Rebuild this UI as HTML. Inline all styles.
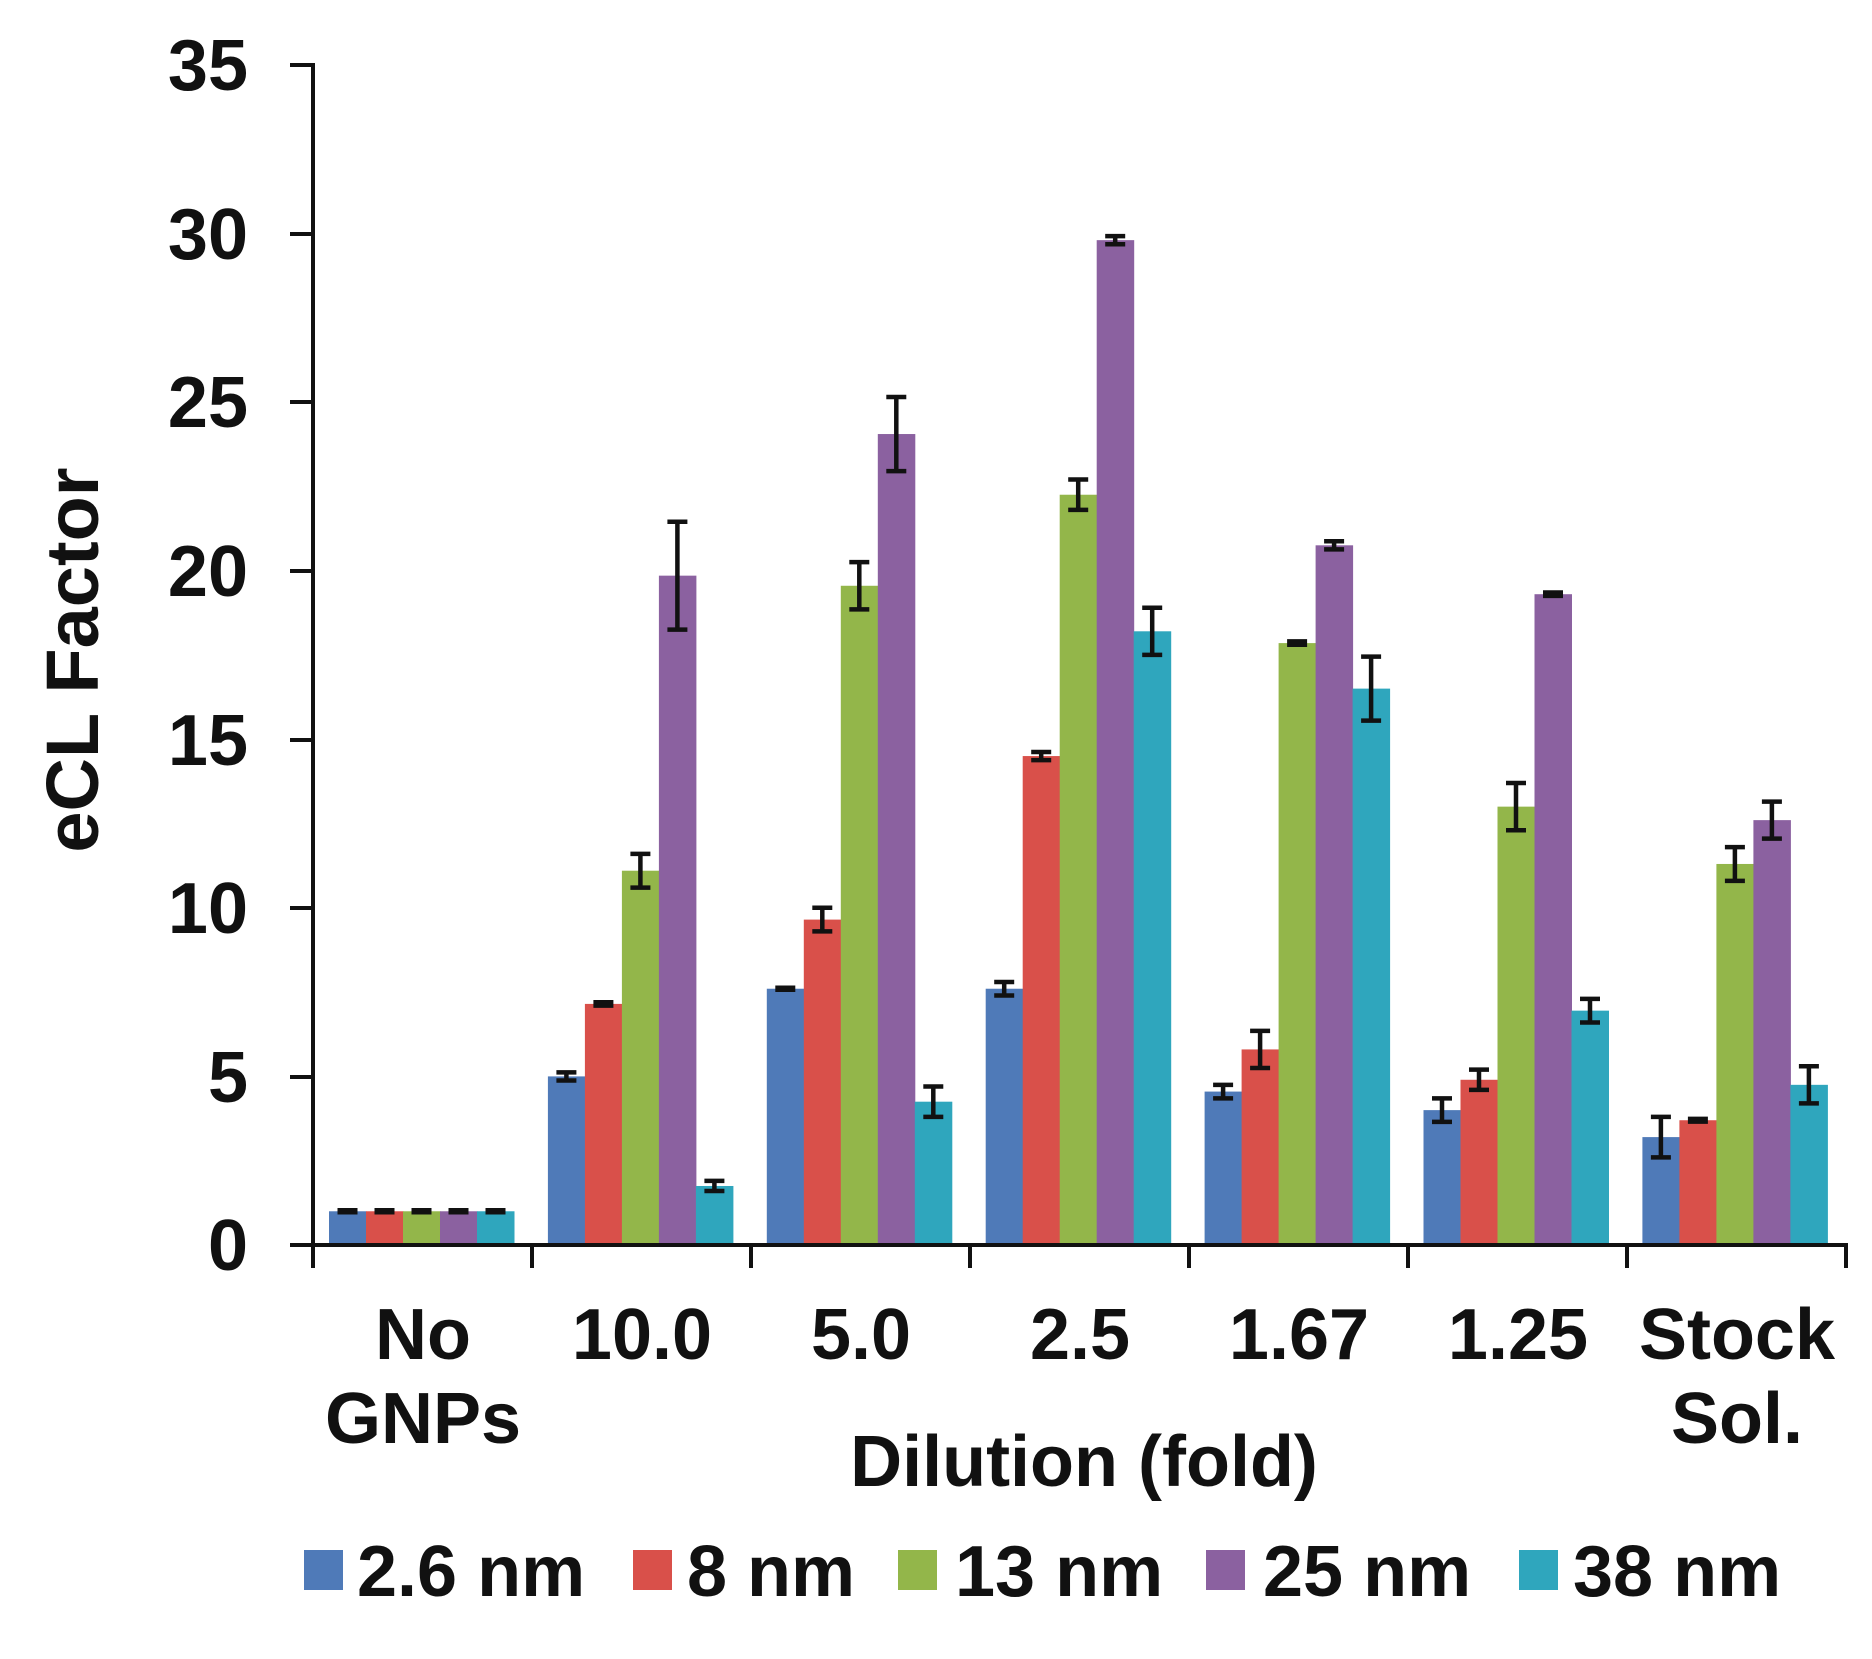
<!DOCTYPE html>
<html><head><meta charset="utf-8"><style>
body{margin:0;background:#fff}
svg{display:block}
text{font-family:"Liberation Sans",Arial,sans-serif;font-weight:bold;fill:#111}
</style></head><body>
<svg width="1872" height="1659" viewBox="0 0 1872 1659" xmlns="http://www.w3.org/2000/svg">
<g id="bars"></g>
<g stroke="#111" stroke-width="4" fill="none">
<line x1="313" y1="63" x2="313" y2="1268"/>
<line x1="290" y1="1245" x2="1848" y2="1245"/>
<line x1="1846" y1="1245" x2="1846" y2="1268"/>
<line x1="290" y1="65" x2="313" y2="65"/>
<line x1="290" y1="234" x2="313" y2="234"/>
<line x1="290" y1="402" x2="313" y2="402"/>
<line x1="290" y1="571" x2="313" y2="571"/>
<line x1="290" y1="740" x2="313" y2="740"/>
<line x1="290" y1="908" x2="313" y2="908"/>
<line x1="290" y1="1077" x2="313" y2="1077"/>
<line x1="532" y1="1245" x2="532" y2="1268"/>
<line x1="751" y1="1245" x2="751" y2="1268"/>
<line x1="970" y1="1245" x2="970" y2="1268"/>
<line x1="1189" y1="1245" x2="1189" y2="1268"/>
<line x1="1408" y1="1245" x2="1408" y2="1268"/>
<line x1="1627" y1="1245" x2="1627" y2="1268"/>
</g>
<g id="err" stroke="#111" stroke-width="4.5" fill="none"></g>
<g font-size="72" text-anchor="end">
<text x="248" y="90">35</text><text x="248" y="259">30</text><text x="248" y="427">25</text>
<text x="248" y="596">20</text><text x="248" y="765">15</text><text x="248" y="933">10</text>
<text x="248" y="1102">5</text><text x="248" y="1270">0</text>
</g>
<text font-size="74" text-anchor="middle" transform="translate(98,660) rotate(-90)">eCL Factor</text>
<g font-size="72" text-anchor="middle">
<text x="423" y="1359">No</text><text x="423" y="1443">GNPs</text>
<text x="642" y="1359">10.0</text><text x="861" y="1359">5.0</text>
<text x="1080" y="1359">2.5</text><text x="1299" y="1359">1.67</text>
<text x="1518" y="1359">1.25</text>
<text x="1737" y="1359">Stock</text><text x="1737" y="1443">Sol.</text>
<text x="1084" y="1486">Dilution (fold)</text>
</g>
<g font-size="72">
<rect x="304" y="1550" width="39" height="40" fill="#4f7ab8"/><text x="357" y="1596">2.6 nm</text>
<rect x="633" y="1550" width="39" height="40" fill="#d9504a"/><text x="687" y="1596">8 nm</text>
<rect x="898" y="1550" width="39" height="40" fill="#93b64a"/><text x="955" y="1596">13 nm</text>
<rect x="1206" y="1550" width="39" height="40" fill="#8b61a0"/><text x="1263" y="1596">25 nm</text>
<rect x="1519" y="1550" width="39" height="40" fill="#2fa6bd"/><text x="1573" y="1596">38 nm</text>
</g>
<script>
var cols=["#4f7ab8","#d9504a","#93b64a","#8b61a0","#2fa6bd"];
var d=[[[1,.03],[1,.03],[1,.03],[1,.03],[1,.03]],
[[5,.12],[7.15,.05],[11.1,.5],[19.85,1.6],[1.75,.15]],
[[7.6,.03],[9.65,.35],[19.55,.7],[24.05,1.1],[4.25,.45]],
[[7.6,.2],[14.5,.12],[22.25,.45],[29.8,.12],[18.2,.7]],
[[4.55,.2],[5.8,.55],[17.85,.05],[20.75,.12],[16.5,.95]],
[[4.0,.35],[4.9,.3],[13.0,.7],[19.3,.05],[6.95,.35]],
[[3.2,.6],[3.7,.04],[11.3,.5],[12.6,.55],[4.75,.55]]];
var ns="http://www.w3.org/2000/svg",B=document.getElementById("bars"),E=document.getElementById("err");
function y(v){return 1245-v*33.72;}
for(var g=0;g<7;g++)for(var i=0;i<5;i++){
 var x=313+g*218.9+16+i*37,v=d[g][i][0],e=d[g][i][1];
 var r=document.createElementNS(ns,"rect");r.setAttribute("x",x);r.setAttribute("y",y(v));r.setAttribute("width",37.5);r.setAttribute("height",1245-y(v));r.setAttribute("fill",cols[i]);B.appendChild(r);
 var cx=x+18.5,p=document.createElementNS(ns,"path");
 p.setAttribute("d","M"+cx+" "+y(v+e)+"V"+y(v-e)+"M"+(cx-10)+" "+y(v+e)+"h20M"+(cx-10)+" "+y(v-e)+"h20");E.appendChild(p);
}
</script>
</svg>
</body></html>
